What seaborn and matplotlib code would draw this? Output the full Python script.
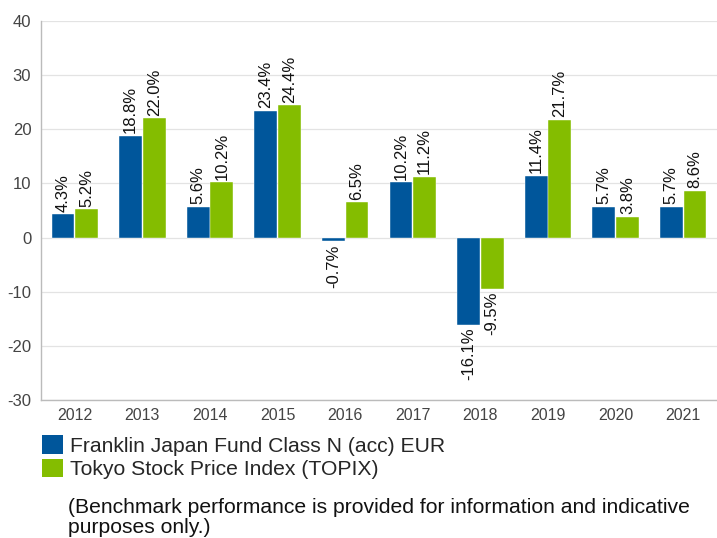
import matplotlib
matplotlib.use("Agg")
import matplotlib.pyplot as plt
import seaborn as sns
import pandas as pd
from matplotlib.patches import Patch

years = ["2012", "2013", "2014", "2015", "2016", "2017", "2018", "2019", "2020", "2021"]
fund = [4.3, 18.8, 5.6, 23.4, -0.7, 10.2, -16.1, 11.4, 5.7, 5.7]
topix = [5.2, 22.0, 10.2, 24.4, 6.5, 11.2, -9.5, 21.7, 3.8, 8.6]
series_names = ["Franklin Japan Fund Class N (acc) EUR", "Tokyo Stock Price Index (TOPIX)"]
colors = ["#00569B", "#84BD00"]
yticks = [-30, -20, -10, 0, 10, 20, 30, 40]
footnote = "(Benchmark performance is provided for information and indicative\npurposes only.)"

df = pd.DataFrame({
    "year": years * 2,
    "value": fund + topix,
    "series": [series_names[0]] * len(years) + [series_names[1]] * len(years),
})

sns.set_theme(style="white")
plt.rcParams["font.family"] = ["Liberation Sans", "DejaVu Sans"]

fig = plt.figure(figsize=(7.17, 5.38), dpi=100)
ax = fig.add_axes([41 / 717, 1 - 400 / 538, 676 / 717, 379 / 538])

sns.barplot(data=df, x="year", y="value", hue="series", palette=colors,
            width=0.7, gap=0.04, ax=ax, legend=False, saturation=1,
            edgecolor="white", linewidth=0.3)

for cont in ax.containers:
    vals = cont.datavalues
    ax.bar_label(cont, labels=[f"{v:.1f}%" for v in vals], rotation=90,
                 padding=2, fontsize=12, color="#111111")

ax.set_xlim(-0.5, 9.5)
ax.set_ylim(-30, 40)
ax.set_yticks(yticks)
ax.set_yticklabels([str(t) for t in yticks])
ax.set_xlabel("")
ax.set_ylabel("")
ax.grid(axis="y", color="#e3e3e3", linewidth=0.9)
ax.set_axisbelow(True)
for s in ["top", "right"]:
    ax.spines[s].set_visible(False)
ax.spines["left"].set_color("#bbbbbb")
ax.spines["bottom"].set_color("#bbbbbb")
ax.spines["left"].set_linewidth(1)
ax.spines["bottom"].set_linewidth(1)
ax.tick_params(axis="x", length=0, labelsize=11.5, colors="#444444", pad=6)
ax.tick_params(axis="y", length=0, labelsize=12, colors="#444444", pad=7)

handles = [Patch(facecolor=c, edgecolor="none") for c in colors]
fig.legend(handles, series_names, loc="upper left",
           bbox_to_anchor=(36 / 717, 1 - 429 / 538), frameon=False,
           fontsize=15.2, handlelength=1.0, handleheight=1.0, handletextpad=0.3,
           labelspacing=0.12, borderaxespad=0, borderpad=0.3)

fig.text(68 / 717, 1 - 498 / 538, footnote, fontsize=15.2, va="top", ha="left",
         color="#111111", linespacing=1.05)

fig.savefig("out.png", dpi=100)
